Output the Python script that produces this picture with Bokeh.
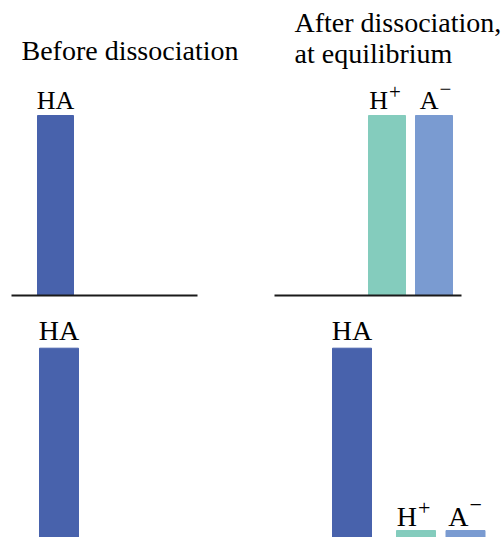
from bokeh.plotting import figure
from bokeh.models import Range1d, ColumnDataSource
from bokeh.embed import file_html
from bokeh.resources import INLINE
from bokeh.core.properties import value

# ---------------- data ----------------
species = ["HA", "H", "A"]
species_sup = ["", "+", "\u2212"]
strong_before = [1.0, 0.0, 0.0]
strong_after = [0.0, 1.0, 1.0]
weak_before = [1.0, 0.0, 0.0]
weak_after = [1.0, 0.065, 0.065]
title_before = ["Before dissociation"]
title_after = ["After dissociation,", "at equilibrium"]
colors = ["#4862AC", "#84CCBD", "#7A9BD1"]

FONT = "Liberation Serif"

# ---------------- layout (pixel-like data space) ----------------
W, H = 504, 537
p = figure(width=W, height=H, output_backend="svg", toolbar_location=None,
           x_range=Range1d(0, W), y_range=Range1d(H, 0),
           min_border=0, outline_line_color=None)
p.axis.visible = False
p.grid.visible = False
p.background_fill_color = "white"
p.border_fill_color = "white"

# concentration scales: top (strong acid) and bottom (weak acid)
top_base, top_unit = 295.0, 180.0
bot_base, bot_unit = 542.7, 195.0
p.extra_y_ranges = {
    "top": Range1d((top_base - H) / top_unit, top_base / top_unit),
    "bot": Range1d((bot_base - H) / bot_unit, bot_base / bot_unit),
}

MID = 0.34  # middle-of-em offset above the alphabetic baseline


def label(x, baseline, txt, fs, align):
    p.text(x=[x], y=[baseline - MID * fs], text=[txt], text_align=align,
           text_baseline="middle", text_font=value(FONT),
           text_font_size=f"{fs}px", text_color="black")


panels = [
    dict(vals=strong_before, yr="top", slots=[55, 0, 0], bw=36, label_y=[109, 109, 109], fs=26,
         sup_dx=[0, 1, 4.5], raise_=[0, 10, 13], base=(11, 197)),
    dict(vals=strong_after, yr="top", slots=[0, 386.5, 433.5], bw=37, label_y=[109, 109, 109], fs=26,
         sup_dx=[0, 1, 4.5], raise_=[0, 10, 13], base=(274, 461)),
    dict(vals=weak_before, yr="bot", slots=[58.5, 0, 0], bw=39, label_y=[340, 526, 526], fs=28,
         sup_dx=[0, 1, 3], raise_=[0, 11, 14], base=None),
    dict(vals=weak_after, yr="bot", slots=[351.5, 415.5, 465], bw=39, label_y=[340, 526, 526], fs=28,
         sup_dx=[0, 1, 3], raise_=[0, 11, 14], base=None),
]

for pn in panels:
    xs, tops, cols = [], [], []
    for j, v in enumerate(pn["vals"]):
        if v <= 0:
            continue
        xs.append(pn["slots"][j])
        tops.append(v)
        cols.append(colors[j])
    src = ColumnDataSource(dict(x=xs, top=tops, color=cols))
    p.vbar(x="x", top="top", bottom=0, width=pn["bw"], fill_color="color",
           line_color="color", line_width=1, source=src, y_range_name=pn["yr"])

    for j, v in enumerate(pn["vals"]):
        if v <= 0:
            continue
        cx = pn["slots"][j]
        ly = pn["label_y"][j]
        fs = pn["fs"]
        if species_sup[j] == "":
            label(cx, ly, species[j], fs, "center")
        else:
            jx = cx + pn["sup_dx"][j]
            sfs = round(fs * 0.8)
            label(jx, ly, species[j], fs, "right")
            label(jx + 1, ly - pn["raise_"][j], species_sup[j], sfs, "left")

    if pn["base"] is not None:
        p.segment(x0=[pn["base"][0]], x1=[pn["base"][1]], y0=[0], y1=[0],
                  line_color="#1a1a1a", line_width=2, y_range_name=pn["yr"])

# titles
for k, line in enumerate(title_before):
    label(21, 60 + 31 * k, line, 28, "left")
for k, line in enumerate(title_after):
    label(294, 32 + 31 * k, line, 28, "left")

open("out.html", "w").write(file_html(p, INLINE))
